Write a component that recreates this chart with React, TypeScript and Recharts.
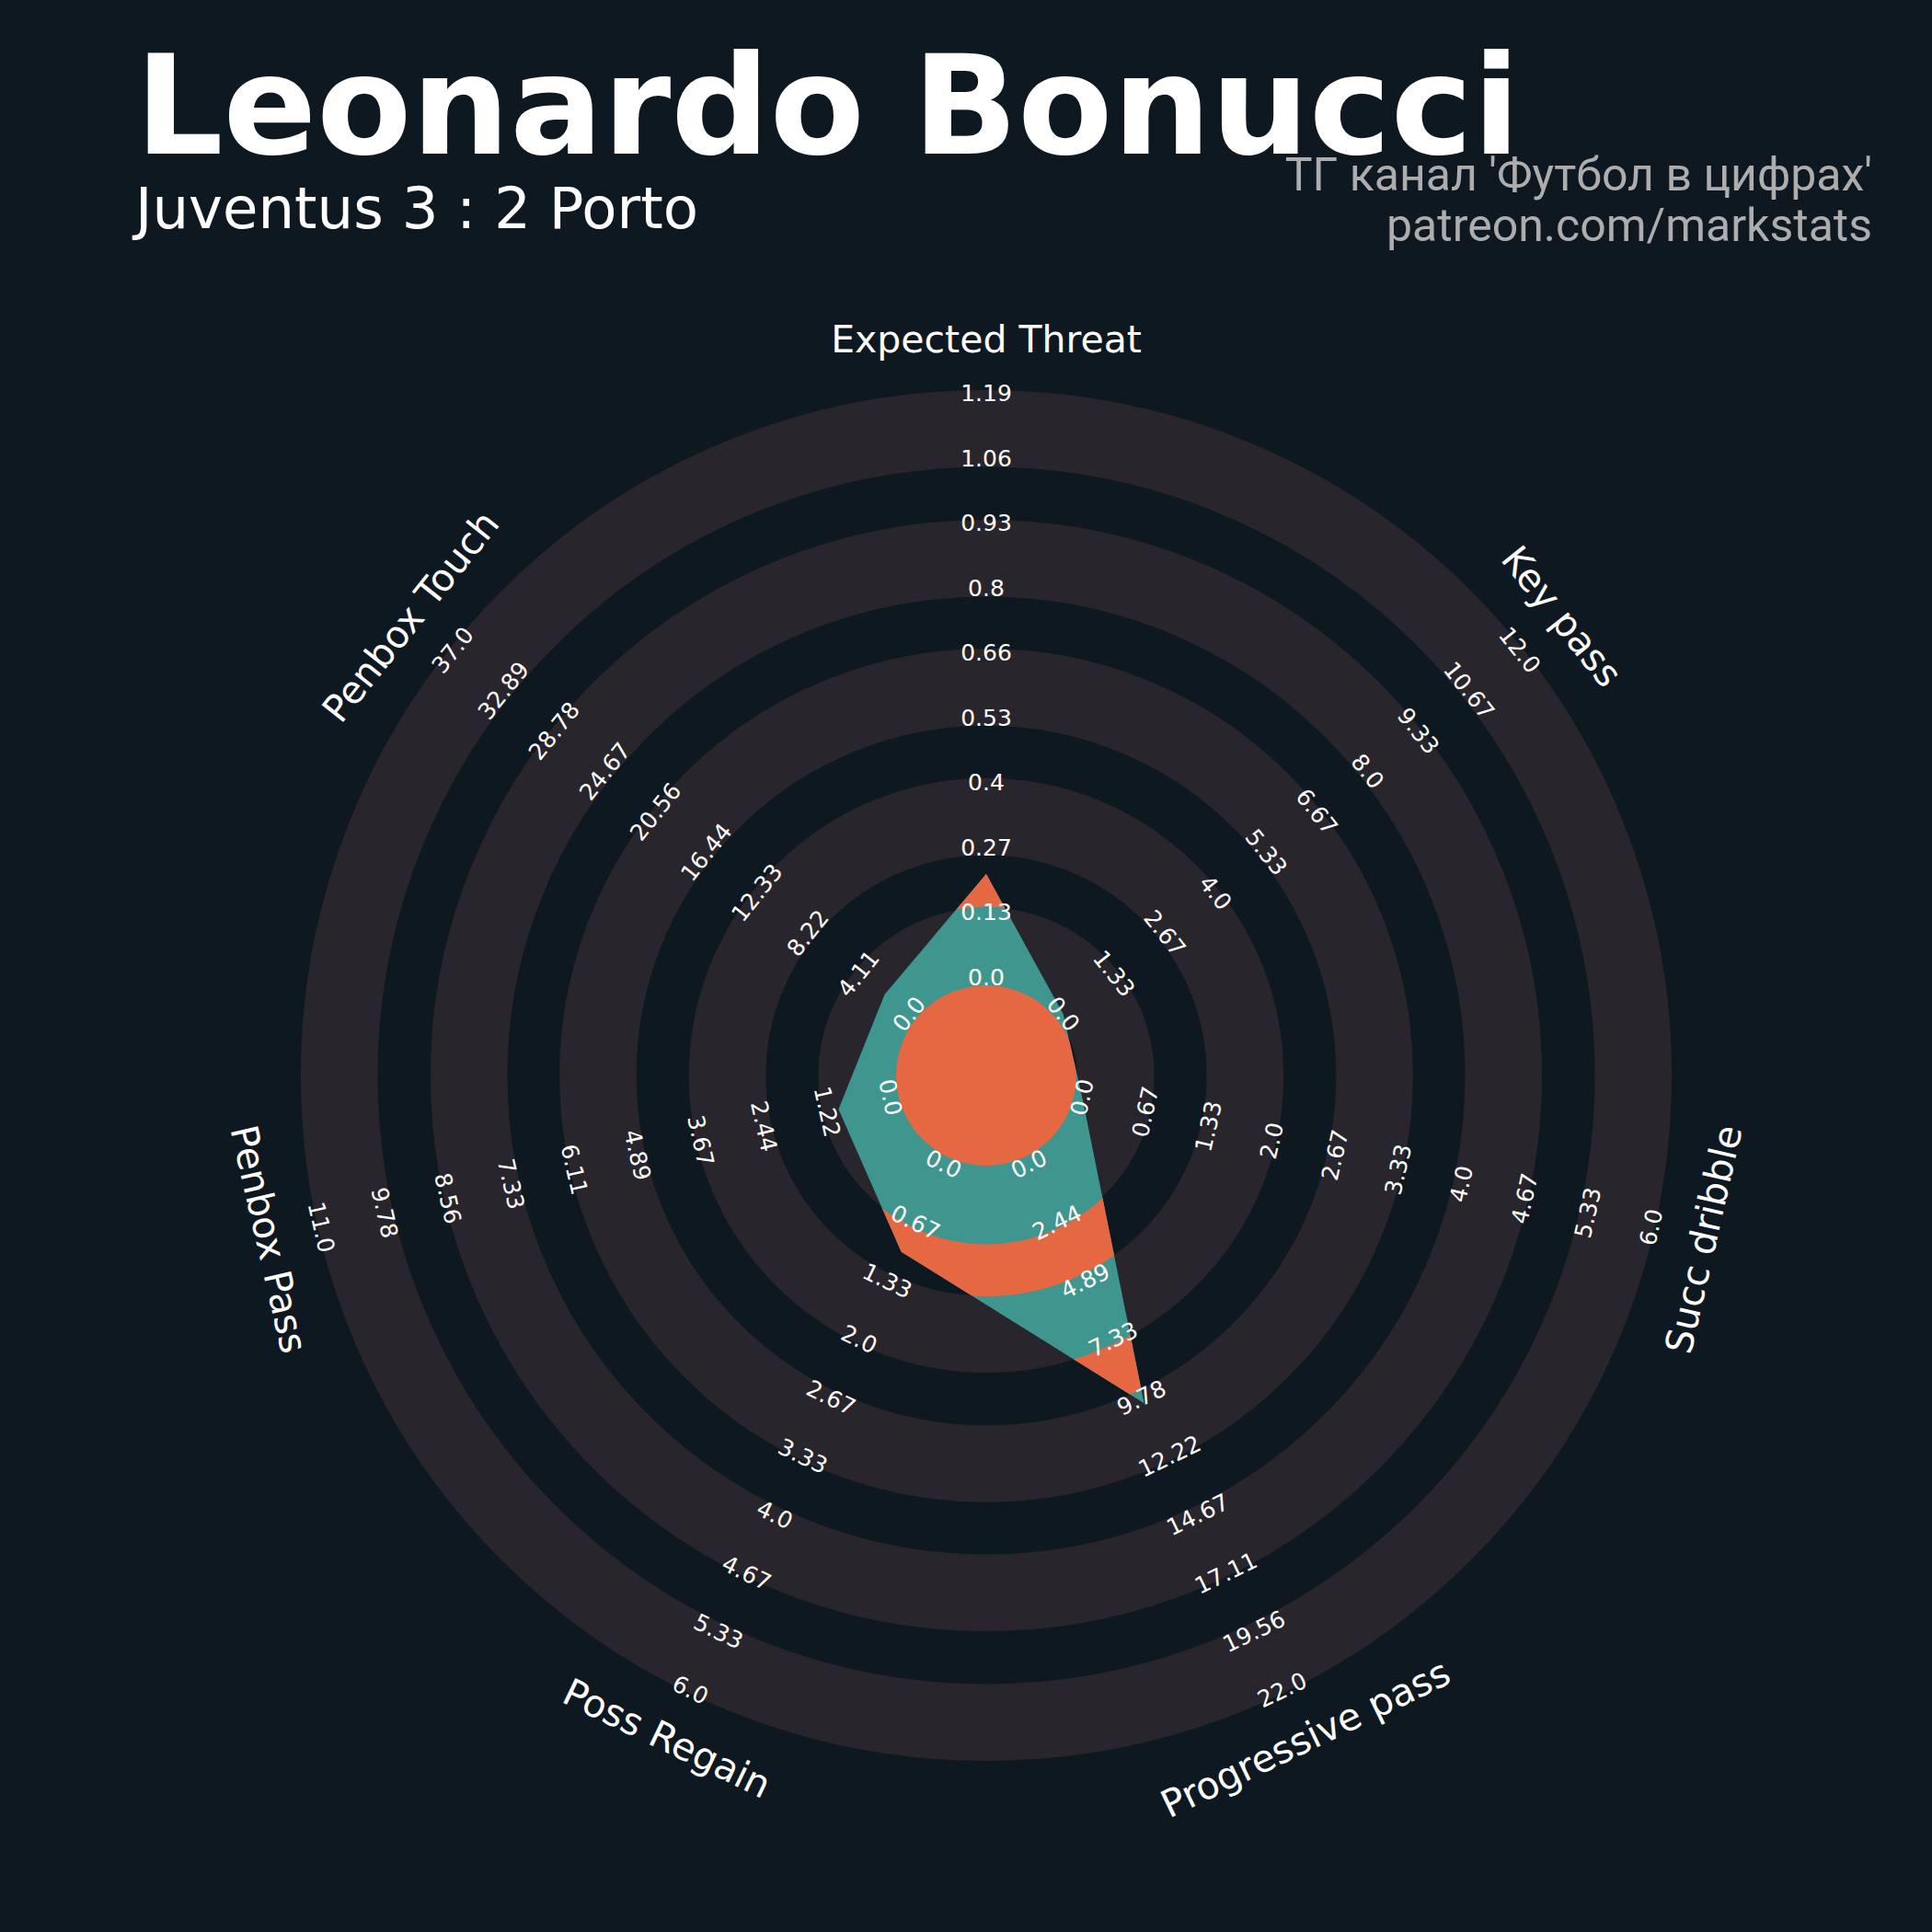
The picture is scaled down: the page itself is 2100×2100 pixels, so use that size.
import React from 'react';
import { RadarChart, Radar, PolarGrid, PolarAngleAxis, PolarRadiusAxis } from 'recharts';

// ---------- data ----------
const params = ['Expected Threat', 'Key pass', 'Succ dribble', 'Progressive pass', 'Poss Regain', 'Penbox Pass', 'Penbox Touch'];
const values = [0.21, 0, 0, 10, 1, 1, 2];
const rangeMin = [0, 0, 0, 0, 0, 0, 0];
const rangeMax = [1.19, 12, 6, 22, 6, 11, 37];
const tickLabels = [
  ['0.0', '0.13', '0.27', '0.4', '0.53', '0.66', '0.8', '0.93', '1.06', '1.19'],
  ['0.0', '1.33', '2.67', '4.0', '5.33', '6.67', '8.0', '9.33', '10.67', '12.0'],
  ['0.0', '0.67', '1.33', '2.0', '2.67', '3.33', '4.0', '4.67', '5.33', '6.0'],
  ['0.0', '2.44', '4.89', '7.33', '9.78', '12.22', '14.67', '17.11', '19.56', '22.0'],
  ['0.0', '0.67', '1.33', '2.0', '2.67', '3.33', '4.0', '4.67', '5.33', '6.0'],
  ['0.0', '1.22', '2.44', '3.67', '4.89', '6.11', '7.33', '8.56', '9.78', '11.0'],
  ['0.0', '4.11', '8.22', '12.33', '16.44', '20.56', '24.67', '28.78', '32.89', '37.0'],
];
const title = 'Leonardo Bonucci';
const subtitle = 'Juventus 3 : 2 Porto';
const credits = ["ТГ канал 'Футбол в цифрах'", 'patreon.com/markstats'];

// ---------- layout / style ----------
const W = 2100;
const H = 2100;
const CX = 1072;
const CY = 1169;
const INNER_R = 107;
const OUTER_R = 741.5;
const STEPS = 9;
const BG = '#0E1821';
const RING = '#28252C';
const TEAL = '#3E968F';
const ORANGE = '#E66842';
const TXT = '#FFFFFF';
const RING_CENTERS = [140.8, 281.4, 422.1, 562.3, 703.3];
const RING_WIDTH = 83.6;
const ORANGE_EDGES = [98, 183.5, 240, 322.8, 380.5, 463.7, 520.5, 604, 661.5];
const LABEL_R = 800;

const data = params.map((p, i) => ({
  param: p,
  v: ((values[i] - rangeMin[i]) / (rangeMax[i] - rangeMin[i])) * STEPS,
}));

const axisAngle = (k: number) => 90 - (360 / params.length) * k;
const textRot = (a: number) => {
  let r = 90 - a;
  while (r > 180) r -= 360;
  while (r <= -180) r += 360;
  if (r > 90) r -= 180;
  if (r < -90) r += 180;
  return r;
};

const RadarShape = (props: any) => {
  const pts = props.points || [];
  if (!pts.length) return null;
  const cx = typeof pts[0].cx === 'number' ? pts[0].cx : CX;
  const cy = typeof pts[0].cy === 'number' ? pts[0].cy : CY;
  const d = pts.map((p: any, i: number) => `${i ? 'L' : 'M'}${p.x},${p.y}`).join(' ') + ' Z';
  const clip = ORANGE_EDGES.map(
    (r) => `M${cx - r},${cy} a${r},${r} 0 1,0 ${2 * r},0 a${r},${r} 0 1,0 ${-2 * r},0 Z`
  ).join(' ');
  return (
    <g>
      <defs>
        <clipPath id="orangeBands">
          <path d={clip} clipRule="evenodd" />
        </clipPath>
      </defs>
      <path d={d} fill={TEAL} />
      <path d={d} fill={ORANGE} clipPath="url(#orangeBands)" />
    </g>
  );
};

// The radius axis is drawn at 90°; each of its ticks gives the radius of one ring,
// and the label of that ring is written on every parameter's spoke.
const RadiusTick = (props: any) => {
  const { x, y, payload } = props;
  const idx = Math.round(payload.value);
  const cx = typeof props.cx === 'number' ? props.cx : x;
  const cy = typeof props.cy === 'number' ? props.cy : CY;
  const r = Math.hypot(x - cx, y - cy);
  return (
    <g>
      {params.map((p, k) => {
        const label = tickLabels[k][idx];
        if (label === undefined) return null;
        const a = axisAngle(k);
        const rad = (-a * Math.PI) / 180;
        const tx = cx + r * Math.cos(rad);
        const ty = cy + r * Math.sin(rad);
        const rot = textRot(a);
        return (
          <text
            key={p}
            x={tx}
            y={ty}
            textAnchor="middle"
            dominantBaseline="central"
            transform={`rotate(${rot} ${tx} ${ty})`}
            fill={TXT}
            fontSize={25}
            fontFamily="DejaVu Sans"
          >
            {label}
          </text>
        );
      })}
    </g>
  );
};

const AngleTick = (props: any) => {
  const { payload } = props;
  const cx = typeof props.cx === 'number' ? props.cx : CX;
  const cy = typeof props.cy === 'number' ? props.cy : CY;
  const a = payload.coordinate;
  const rad = (-a * Math.PI) / 180;
  const x = cx + LABEL_R * Math.cos(rad);
  const y = cy + LABEL_R * Math.sin(rad);
  const rot = textRot(a);
  return (
    <text
      x={x}
      y={y}
      textAnchor="middle"
      dominantBaseline="central"
      transform={`rotate(${rot} ${x} ${y})`}
      fill={TXT}
      fontSize={41}
      fontFamily="DejaVu Sans"
    >
      {payload.value}
    </text>
  );
};

export default function App() {
  return (
    <div style={{ position: 'absolute', left: 0, top: 0, width: W, height: H, background: BG, overflow: 'hidden' }}>
      <div style={{ position: 'absolute', left: 0, top: 0 }}>
        <RadarChart
          width={W}
          height={H}
          cx={CX}
          cy={CY}
          innerRadius={INNER_R}
          outerRadius={OUTER_R}
          data={data}
          margin={{ top: 0, right: 0, bottom: 0, left: 0 }}
        >
          <PolarGrid
            gridType="circle"
            polarRadius={RING_CENTERS}
            polarAngles={[]}
            radialLines={false}
            stroke={RING}
            strokeWidth={RING_WIDTH}
          />
          <PolarAngleAxis dataKey="param" tick={AngleTick} tickLine={false} axisLine={false} />
          <PolarRadiusAxis
            radiusAxisId={0}
            angle={90}
            domain={[0, STEPS]}
            type="number"
            tickCount={10}
            axisLine={false}
            tickLine={false}
            tick={RadiusTick}
          />
          <Radar dataKey="v" radiusAxisId={0} shape={RadarShape} isAnimationActive={false} />
        </RadarChart>
      </div>
      <svg width={W} height={H} style={{ position: 'absolute', left: 0, top: 0, pointerEvents: 'none' }}>
        <text x={147} y={167} fill={TXT} fontSize={150} fontWeight="bold" fontFamily="DejaVu Sans">
          {title}
        </text>
        <text x={147} y={248} fill={TXT} fontSize={62.5} fontFamily="DejaVu Sans">
          {subtitle}
        </text>
        <text x={2035} y={207} fill="#ADADAD" fontSize={50} textAnchor="end" fontFamily="Roboto">
          {credits[0]}
        </text>
        <text x={2035} y={262} fill="#ADADAD" fontSize={50} textAnchor="end" fontFamily="Roboto">
          {credits[1]}
        </text>
      </svg>
    </div>
  );
}
